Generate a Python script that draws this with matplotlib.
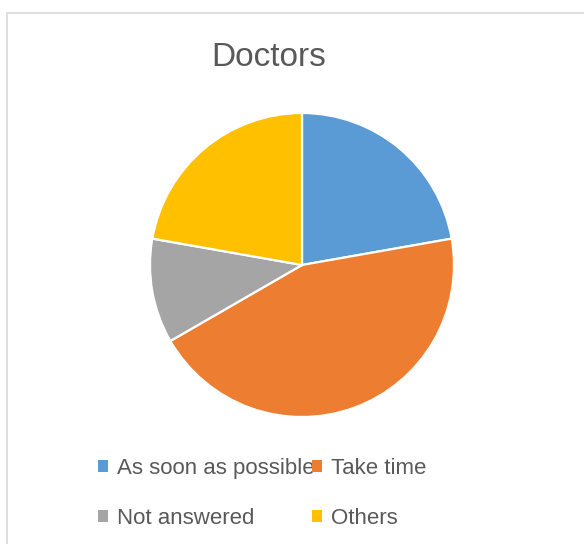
import matplotlib.pyplot as plt
from matplotlib.patches import Rectangle, Patch


# =========================================================
# DATA
# =========================================================

labels = ["As soon as possible", "Take time", "Not answered", "Others"]

values = [2, 4, 1, 2]

colors = ["#5B9BD5", "#ED7D31", "#A5A5A5", "#FFC000"]

title = "Doctors"

TEXT_COLOR = "#595959"


# =========================================================
# FIGURE
# =========================================================

W, H = 584, 544

fig = plt.figure(figsize=(W / 100, H / 100), dpi=100)

# chart border (runs off the right / bottom edges)
fig.patches.append(
    Rectangle(
        (7 / W, -0.1),
        1.2,
        (H - 13) / H + 0.1,
        transform=fig.transFigure,
        fill=False,
        edgecolor="#d9d9d9",
        linewidth=1.2,
    )
)

# pie axes, center (302, 265) px, radius 152 px
r_px = 152
lim = 1.05
side = 2 * r_px * lim
cx, cy = 302, H - 265

ax = fig.add_axes([
    (cx - side / 2) / W,
    (cy - side / 2) / H,
    side / W,
    side / H
])

wedges, _ = ax.pie(
    values,
    colors=colors,
    startangle=90,
    counterclock=False,
    wedgeprops=dict(edgecolor="white", linewidth=1.6),
)

ax.set_xlim(-lim, lim)
ax.set_ylim(-lim, lim)
ax.set_aspect("equal")
ax.axis("off")


# =========================================================
# TITLE
# =========================================================

fig.text(
    269 / W,
    (H - 58) / H,
    title,
    ha="center",
    va="center",
    fontsize=24,
    color=TEXT_COLOR,
    family=["Liberation Sans", "DejaVu Sans"],
)


# =========================================================
# LEGEND
# =========================================================

# matplotlib fills legend columns first, reorder so rows read left->right
order = [0, 2, 1, 3]

handles = [Patch(facecolor=colors[i], edgecolor="none") for i in order]

leg = fig.legend(
    handles,
    [labels[i] for i in order],
    ncol=2,
    loc="upper left",
    bbox_to_anchor=(98 / W, (H - 458) / H),
    frameon=False,
    borderpad=0,
    borderaxespad=0,
    handlelength=0.45,
    handleheight=0.45,
    handletextpad=0.4,
    columnspacing=-0.1,
    labelspacing=1.3,
    prop={"family": "Liberation Sans", "size": 16},
)

for t in leg.get_texts():
    t.set_color(TEXT_COLOR)


plt.savefig("out.png", dpi=100)

plt.close()

print("Saved: out.png")
